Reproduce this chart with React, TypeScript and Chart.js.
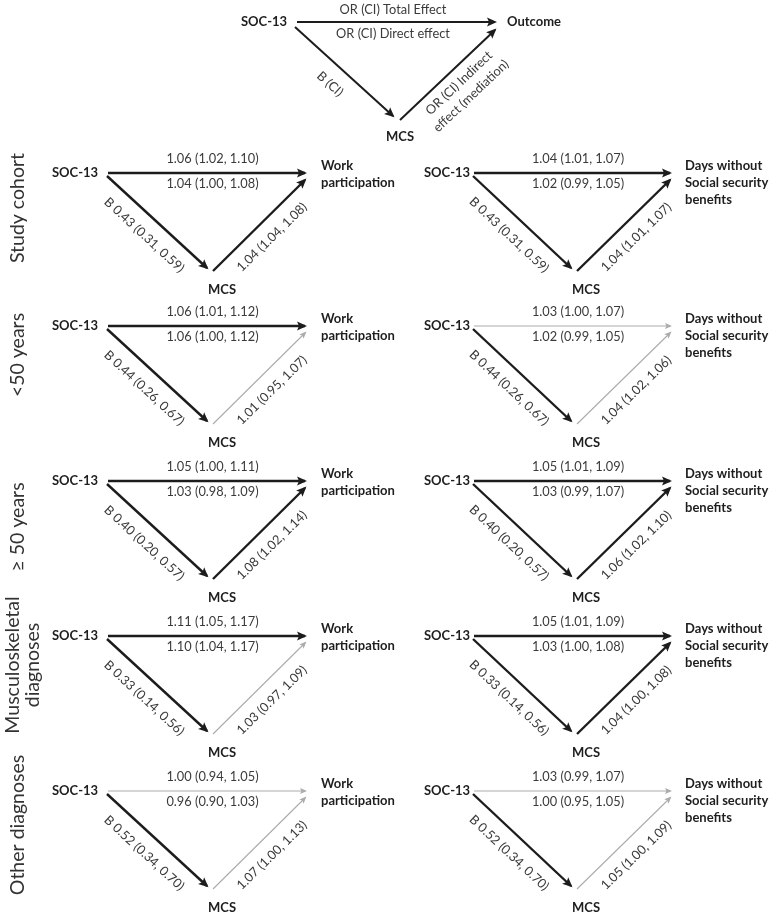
import React, { useEffect, useRef } from "react";
import { Chart, registerables } from "chart.js";
Chart.register(...registerables);

// ---------- DATA ----------
const groupLabels: string[][] = [
  ["Study cohort"],
  ["<50 years"],
  ["≥ 50 years"],
  ["Musculoskeletal", "diagnoses"],
  ["Other diagnoses"],
];
const outcomeLabels: string[][] = [
  ["Work", "participation"],
  ["Days without", "Social security", "benefits"],
];
const bPath = ["0.43 (0.31, 0.59)", "0.44 (0.26, 0.67)", "0.40 (0.20, 0.57)", "0.33 (0.14, 0.56)", "0.52 (0.34, 0.70)"];
const wpTotal = ["1.06 (1.02, 1.10)", "1.06 (1.01, 1.12)", "1.05 (1.00, 1.11)", "1.11 (1.05, 1.17)", "1.00 (0.94, 1.05)"];
const wpDirect = ["1.04 (1.00, 1.08)", "1.06 (1.00, 1.12)", "1.03 (0.98, 1.09)", "1.10 (1.04, 1.17)", "0.96 (0.90, 1.03)"];
const wpIndirect = ["1.04 (1.04, 1.08)", "1.01 (0.95, 1.07)", "1.08 (1.02, 1.14)", "1.03 (0.97, 1.09)", "1.07 (1.00, 1.13)"];
const dsTotal = ["1.04 (1.01, 1.07)", "1.03 (1.00, 1.07)", "1.05 (1.01, 1.09)", "1.05 (1.01, 1.09)", "1.03 (0.99, 1.07)"];
const dsDirect = ["1.02 (0.99, 1.05)", "1.02 (0.99, 1.05)", "1.03 (0.99, 1.07)", "1.03 (1.00, 1.08)", "1.00 (0.95, 1.05)"];
const dsIndirect = ["1.04 (1.01, 1.07)", "1.04 (1.02, 1.06)", "1.06 (1.02, 1.10)", "1.04 (1.00, 1.08)", "1.05 (1.00, 1.09)"];
// significance (bold arrow) flags
const bSig = [true, true, true, true, true];
const wpMainSig = [true, true, true, true, false];
const wpIndSig = [true, false, true, false, false];
const dsMainSig = [true, false, true, true, false];
const dsIndSig = [true, false, true, true, false];

// ---------- LAYOUT ----------
const W = 771;
const H = 914;
const rowY = [173, 326, 481, 636, 791];
const rowLabelY = [208, 355, 527, 665, 825];
const panels = [
  { socX: 75, x0: 108, x1: 307, mx: 208, tx: 321 },
  { socX: 447, x0: 474, x1: 672, mx: 572, tx: 685 },
];
const DARK = "#1c1c1c";
const GRAY = "#ababab";
const NUM_COLOR = "#3a3a3a";
const NODE_COLOR = "#1e1e1e";
const FONT = "Lato, 'Open Sans', sans-serif";

type Txt = { t: string; x: number; y: number; rot?: number; font: string; color: string; align?: CanvasTextAlign };

function buildDatasets() {
  const ds: any[] = [];
  const seg = (a: [number, number], b: [number, number], bold: boolean, w?: number) => {
    ds.push({
      data: [{ x: a[0], y: a[1] }, { x: b[0], y: b[1] }],
      showLine: true,
      pointRadius: 0,
      borderColor: bold ? DARK : GRAY,
      backgroundColor: bold ? DARK : GRAY,
      borderWidth: w ?? (bold ? 2.4 : 1.1),
      headLen: bold ? 10 : 7,
      headW: bold ? 4.5 : 3,
    });
  };
  // legend diagram at top
  seg([297, 22], [495, 22], true, 2);
  seg([295, 27], [393, 116], true, 2);
  seg([400, 120], [495, 30], true, 2);

  rowY.forEach((y, r) => {
    panels.forEach((p, pi) => {
      const mainSig = pi === 0 ? wpMainSig[r] : dsMainSig[r];
      const indSig = pi === 0 ? wpIndSig[r] : dsIndSig[r];
      seg([p.x0, y], [p.x1 - 2, y], mainSig);
      seg([p.x0 - 1, y + 3], [p.mx - 1, y + 95], bSig[r]);
      seg([p.mx + 5, y + 98], [p.x1 - 2, y + 7], indSig);
    });
  });
  return ds;
}

function buildTexts(): Txt[] {
  const out: Txt[] = [];
  const num = `12.8px ${FONT}`;
  const node = `bold 13px ${FONT}`;
  const leg = `12.8px ${FONT}`;
  // top legend diagram
  out.push({ t: "SOC-13", x: 264, y: 22, font: node, color: NODE_COLOR });
  out.push({ t: "Outcome", x: 507, y: 22, font: node, color: NODE_COLOR, align: "left" });
  out.push({ t: "MCS", x: 400, y: 137, font: node, color: NODE_COLOR });
  out.push({ t: "OR (CI) Total Effect", x: 393, y: 10, font: leg, color: NUM_COLOR });
  out.push({ t: "OR (CI) Direct effect", x: 393, y: 34, font: leg, color: NUM_COLOR });
  const a1 = Math.atan2(91, 100);
  out.push({ t: "B (CI)", x: 330, y: 84, rot: a1, font: leg, color: NUM_COLOR });
  const a2 = Math.atan2(-92, 97);
  out.push({ t: "OR (CI) Indirect", x: 459, y: 83, rot: a2, font: leg, color: NUM_COLOR });
  out.push({ t: "effect (mediation)", x: 471, y: 96, rot: a2, font: leg, color: NUM_COLOR });

  rowY.forEach((y, r) => {
    // group label
    const gl = groupLabels[r];
    gl.forEach((line, li) => {
      const x = gl.length === 1 ? 18 : 13 + li * 20;
      out.push({ t: line, x, y: rowLabelY[r], rot: -Math.PI / 2, font: `19.5px ${FONT}`, color: "#333" });
    });
    panels.forEach((p, pi) => {
      out.push({ t: "SOC-13", x: p.socX, y: y, font: node, color: NODE_COLOR });
      out.push({ t: "MCS", x: p.mx + 14, y: y + 117, font: node, color: NODE_COLOR });
      const ol = outcomeLabels[pi];
      ol.forEach((line, li) => {
        out.push({ t: line, x: p.tx, y: y - 7 + li * 17, font: node, color: NODE_COLOR, align: "left" });
      });
      const cx = (p.x0 + p.x1) / 2 + 5;
      out.push({ t: pi === 0 ? wpTotal[r] : dsTotal[r], x: cx, y: y - 14, font: num, color: NUM_COLOR });
      out.push({ t: pi === 0 ? wpDirect[r] : dsDirect[r], x: cx, y: y + 11, font: num, color: NUM_COLOR });
      // B path label
      const dx1 = p.mx - p.x0, dy1 = 92;
      const ang1 = Math.atan2(dy1, dx1);
      const L1 = Math.hypot(dx1, dy1);
      const ux = dx1 / L1, uy = dy1 / L1;
      const bx = p.x0 + dx1 * 0.49 - uy * 19;
      const by = y + 3 + dy1 * 0.49 + ux * 19;
      out.push({ t: "B " + bPath[r], x: bx, y: by, rot: ang1, font: num, color: NUM_COLOR });
      // indirect label
      const sx = p.mx + 5, sy = y + 98;
      const dx2 = p.x1 - sx, dy2 = (y + 6) - sy;
      const ang2 = Math.atan2(dy2, dx2);
      const L2 = Math.hypot(dx2, dy2);
      const vx = dx2 / L2, vy = dy2 / L2;
      const ix = sx + dx2 * 0.5 - vy * 17;
      const iy = sy + dy2 * 0.5 + vx * 17;
      out.push({ t: pi === 0 ? wpIndirect[r] : dsIndirect[r], x: ix, y: iy, rot: ang2, font: num, color: NUM_COLOR });
    });
  });
  return out;
}

const arrowPlugin = {
  id: "arrowheads",
  afterDatasetsDraw(chart: any) {
    const ctx = chart.ctx;
    chart.data.datasets.forEach((d: any, i: number) => {
      const meta = chart.getDatasetMeta(i);
      const pts = meta.data;
      if (!pts || pts.length < 2) return;
      const p0 = pts[pts.length - 2];
      const p1 = pts[pts.length - 1];
      const ang = Math.atan2(p1.y - p0.y, p1.x - p0.x);
      const tipX = p1.x + Math.cos(ang) * 2;
      const tipY = p1.y + Math.sin(ang) * 2;
      const L = d.headLen, hw = d.headW;
      ctx.save();
      ctx.translate(tipX, tipY);
      ctx.rotate(ang);
      ctx.beginPath();
      ctx.moveTo(0, 0);
      ctx.lineTo(-L, -hw);
      ctx.lineTo(-L * 0.8, 0);
      ctx.lineTo(-L, hw);
      ctx.closePath();
      ctx.fillStyle = d.borderColor;
      ctx.fill();
      ctx.restore();
    });
  },
};

const textPlugin = {
  id: "diagramText",
  afterDraw(chart: any) {
    const ctx = chart.ctx;
    const xs = chart.scales.x, ys = chart.scales.y;
    const texts: Txt[] = chart.options.plugins.diagramText.items;
    texts.forEach((tx) => {
      ctx.save();
      ctx.translate(xs.getPixelForValue(tx.x), ys.getPixelForValue(tx.y));
      if (tx.rot) ctx.rotate(tx.rot);
      ctx.font = tx.font;
      ctx.fillStyle = tx.color;
      ctx.textAlign = tx.align || "center";
      ctx.textBaseline = "middle";
      ctx.fillText(tx.t, 0, 0);
      ctx.restore();
    });
  },
};

export default function App() {
  const ref = useRef<HTMLCanvasElement | null>(null);
  useEffect(() => {
    if (!ref.current) return;
    const chart = new Chart(ref.current, {
      type: "scatter",
      data: { datasets: buildDatasets() },
      options: {
        animation: false,
        responsive: false,
        events: [],
        layout: { padding: 0 },
        plugins: {
          legend: { display: false },
          tooltip: { enabled: false },
          diagramText: { items: buildTexts() },
        } as any,
        scales: {
          x: { type: "linear", min: 0, max: W, display: false },
          y: { type: "linear", min: 0, max: H, reverse: true, display: false },
        },
      },
      plugins: [arrowPlugin, textPlugin],
    });
    return () => chart.destroy();
  }, []);
  return (
    <div style={{ position: "absolute", left: 0, top: 0, width: W, height: H, background: "#fff" }}>
      <canvas ref={ref} width={W} height={H} style={{ display: "block" }} />
    </div>
  );
}
